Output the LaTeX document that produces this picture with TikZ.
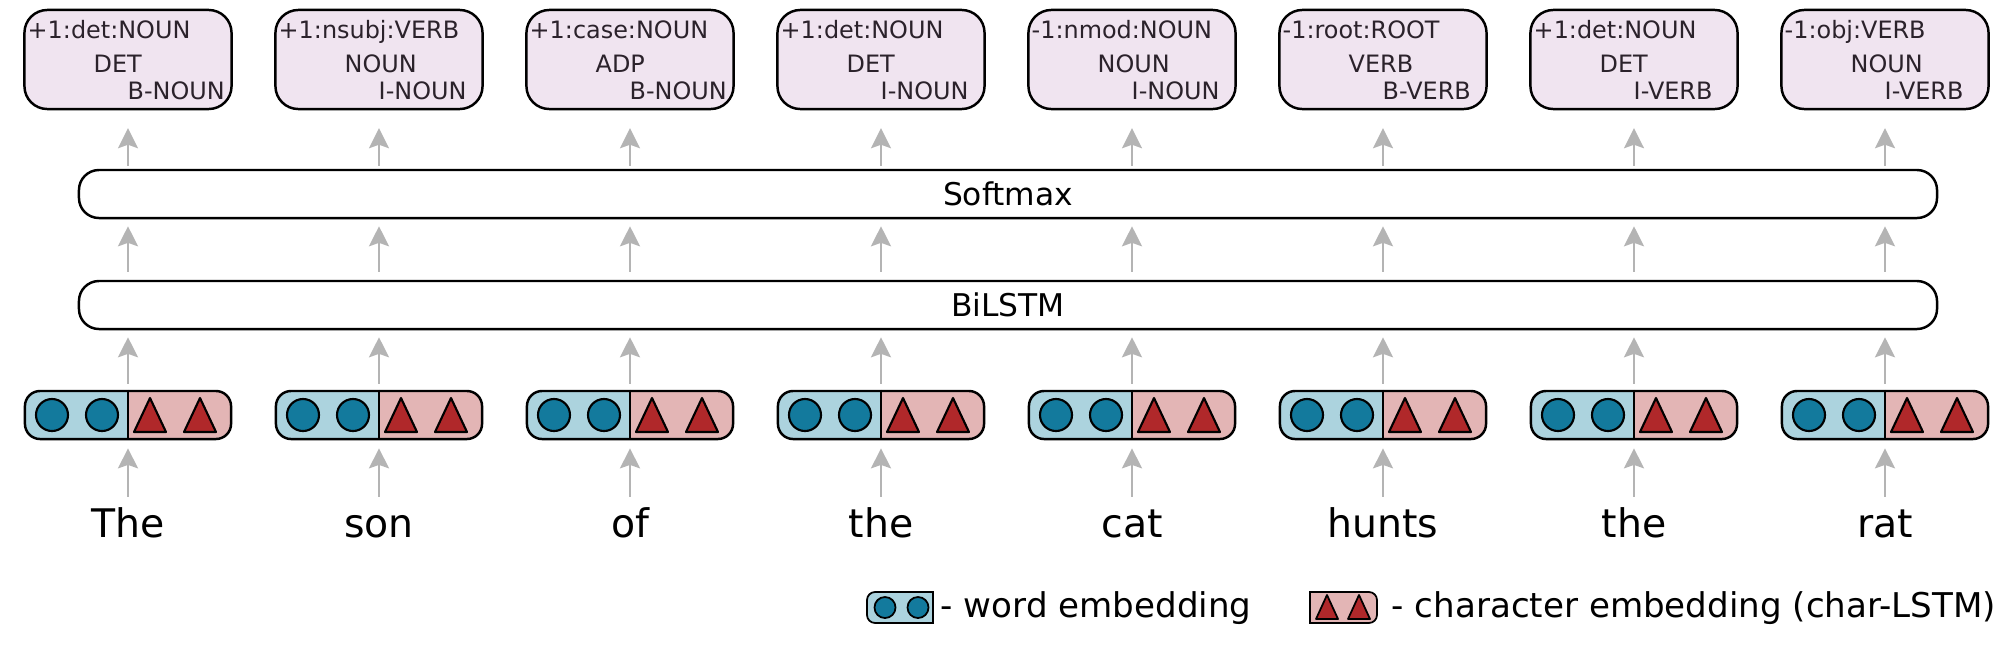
\documentclass[tikz,border=0pt]{standalone}
\usepackage{fontspec}
\setmainfont{DejaVu Sans}
\usetikzlibrary{arrows.meta}
\definecolor{labbg}{HTML}{F0E4F0}
\definecolor{labink}{HTML}{2B222B}
\definecolor{wordbg}{HTML}{ACD3DE}
\definecolor{dotfill}{HTML}{137A9D}
\definecolor{charbg}{HTML}{E3B5B5}
\definecolor{trifill}{HTML}{B0282A}
\definecolor{arrgray}{HTML}{B4B4B4}
\begin{document}
\begin{tikzpicture}[x=0.01cm,y=-0.01cm,
    arr/.style={-{Stealth[length=5.7pt,width=5.7pt,inset=1pt]},draw=arrgray,line width=0.6pt},
    layer/.style={draw,line width=0.7pt,rounded corners=5.7pt,minimum width=18.57cm,minimum height=0.48cm,font=\fontsize{8.9}{10}\selectfont},
    labbox/.style={draw,line width=0.7pt,fill=labbg,rounded corners=6.5pt,minimum width=2.07cm,minimum height=0.99cm,inner sep=0pt},
    labtxt/.style={anchor=base west,inner sep=0pt,text=labink,font=\fontsize{6.8}{8}\selectfont},
    embbox/.style={draw,line width=0.7pt,rounded corners=4.3pt,minimum width=2.06cm,minimum height=0.48cm,inner sep=0pt},
    dot/.style={circle,draw,line width=0.6pt,fill=dotfill,minimum size=0.32cm,inner sep=0pt},
    tri/.style={draw,line width=0.6pt,fill=trifill,line join=round},
    word/.style={anchor=base,inner sep=0pt,text height=0.75em,text depth=0.25em,font=\fontsize{11.2}{13}\selectfont},
    legtxt/.style={anchor=base west,inner sep=0pt,font=\fontsize{9.7}{11}\selectfont}]
  \useasboundingbox (0,0) rectangle (2011,660);
  \node[layer] (softmax) at (1008,194) {Softmax};
  \node[layer] (bilstm) at (1008,305) {BiLSTM};
  \foreach \w/\a/\b/\c [count=\i from 0] in {The/+1:det:NOUN/DET/B-NOUN,son/+1:nsubj:VERB/NOUN/I-NOUN,of/+1:case:NOUN/ADP/B-NOUN,the/+1:det:NOUN/DET/I-NOUN,cat/-1:nmod:NOUN/NOUN/I-NOUN,hunts/-1:root:ROOT/VERB/B-VERB,the/+1:det:NOUN/DET/I-VERB,rat/-1:obj:VERB/NOUN/I-VERB}{
    \pgfmathsetmacro{\x}{128+251*\i}
    \node[word] (w\i) at (\x,537) {\w};
    \begin{scope}
      \clip[rounded corners=4.3pt] (\x-103,391) rectangle (\x+103,439);
      \fill[wordbg] (\x-103,391) rectangle (\x,439);
      \fill[charbg] (\x,391) rectangle (\x+103,439);
    \end{scope}
    \node[embbox] (e\i) at (\x,415) {};
    \draw[line width=0.7pt] (e\i.north) -- (e\i.south);
    \node[dot] (e\i d1) at (\x-76,415) {};
    \node[dot] (e\i d2) at (\x-26,415) {};
    \filldraw[tri] (\x+6,432) -- (\x+38,432) -- (\x+22,398) -- cycle;
    \filldraw[tri] (\x+56,432) -- (\x+88,432) -- (\x+72,398) -- cycle;
    \node[labbox] (t\i) at (\x,59.5) {};
    \node[labtxt] (t\i a) at (\x-101,38) {\a};
    \node[labtxt] (t\i b) at (\x-35,72) {\b};
    \node[labtxt] (t\i c) at (\x-1,99) {\c};
    \draw[arr,shorten <=3.8pt,shorten >=2.3pt] (w\i) -- (e\i);
    \draw[arr,shorten <=1.7pt,shorten >=2pt] (e\i) -- (e\i |- bilstm.south);
    \draw[arr,shorten <=2.3pt,shorten >=2pt] (e\i |- bilstm.north) -- (e\i |- softmax.south);
    \draw[arr,shorten <=0.85pt,shorten >=5.1pt] (e\i |- softmax.north) -- (t\i);
  }
  \begin{scope}
    \clip[rounded corners=2.3pt] (867,592) rectangle (990,623);
    \fill[wordbg] (867,592) rectangle (933,623);
  \end{scope}
  \draw[line width=0.5pt,rounded corners=2.3pt] (900,592) -- (867,592) -- (867,623) -- (900,623);
  \draw[line width=0.5pt] (900,592) -| (933,623) -- (900,623);
  \node[dot,minimum size=0.21cm,line width=0.5pt] (lw1) at (885,607.5) {};
  \node[dot,minimum size=0.21cm,line width=0.5pt] (lw2) at (918,607.5) {};
  \node[legtxt] (lword) at (940,617) {- word embedding};
  \begin{scope}
    \clip[rounded corners=2.3pt] (1250,592) rectangle (1377,623);
    \fill[charbg] (1310,592) rectangle (1377,623);
  \end{scope}
  \draw[line width=0.5pt] (1343,592) -- (1310,592) -- (1310,623) -- (1343,623);
  \draw[line width=0.5pt,rounded corners=2.3pt] (1343,592) -- (1377,592) -- (1377,623) -- (1343,623);
  \filldraw[tri,line width=0.5pt] (1316,619) -- (1338,619) -- (1327,595) -- cycle;
  \filldraw[tri,line width=0.5pt] (1348,619) -- (1370,619) -- (1359,595) -- cycle;
  \node[legtxt] (lchar) at (1391,617) {- character embedding (char-LSTM)};
\end{tikzpicture}
\end{document}
